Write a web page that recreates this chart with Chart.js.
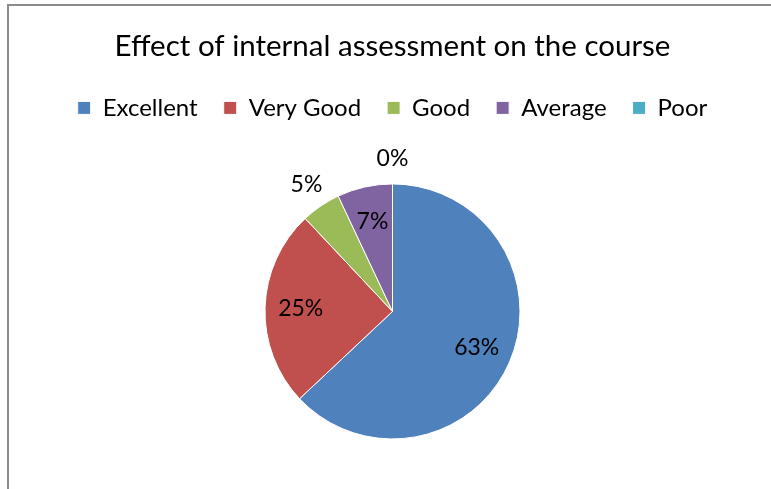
<!DOCTYPE html>
<html>
<head>
<meta charset="utf-8">
<title>Effect of internal assessment on the course</title>
<script src="https://cdn.jsdelivr.net/npm/chart.js@4.4.1/dist/chart.umd.min.js"></script>
<style>
  html, body { margin: 0; padding: 0; background: #fff; overflow: hidden; }
  #wrap { position: relative; width: 771px; height: 489px; overflow: hidden; }
  #frame {
    position: absolute; left: 7px; top: 4px; width: 800px; height: 520px;
    border-left: 2px solid #8c8c8c; border-top: 2px solid #8c8c8c;
    pointer-events: none;
  }
</style>
</head>
<body>
<div id="wrap">
  <canvas id="pieChart" width="771" height="493"></canvas>
  <div id="frame"></div>
</div>
<script>
const chartTitle = "Effect of internal assessment on the course";
const categories = ["Excellent", "Very Good", "Good", "Average", "Poor"];
const percentages = [63, 25, 5, 7, 0];
const sliceColors = ["#4F81BD", "#C0504D", "#9BBB59", "#8064A2", "#4BACC6"];

const FONT = "Lato, 'Open Sans', sans-serif";

// percent labels: inside for big slices, pushed out for the small ones
const pieLabels = {
  id: "pieLabels",
  afterDatasetsDraw(chart) {
    const ctx = chart.ctx;
    const meta = chart.getDatasetMeta(0);
    ctx.save();
    ctx.font = "23px " + FONT;
    ctx.fillStyle = "#000";
    ctx.textAlign = "center";
    ctx.textBaseline = "middle";
    meta.data.forEach((arc, i) => {
      const value = chart.data.datasets[0].data[i];
      const { x, y, startAngle, endAngle, outerRadius } = arc.getProps(
        ["x", "y", "startAngle", "endAngle", "outerRadius"],
        true,
      );
      const mid = (startAngle + endAngle) / 2;
      const k = value < 6 ? 1.2 : 0.72;
      ctx.fillText(
        value + "%",
        x + Math.cos(mid) * outerRadius * k,
        y + Math.sin(mid) * outerRadius * k,
      );
    });
    ctx.restore();
  },
};

new Chart(document.getElementById("pieChart"), {
  type: "pie",
  data: {
    labels: categories,
    datasets: [
      {
        data: percentages,
        backgroundColor: sliceColors,
        borderColor: "#fff",
        borderWidth: 1,
        radius: 127.5,
      },
    ],
  },
  options: {
    responsive: false,
    animation: false,
    layout: { padding: { left: 14, right: 0, top: 0, bottom: 0 } },
    plugins: {
      title: {
        display: true,
        text: chartTitle,
        color: "#000",
        font: { family: FONT, size: 29.5, weight: "normal" },
        padding: { top: 29, bottom: 5.5 },
      },
      legend: {
        position: "top",
        labels: {
          color: "#000",
          font: { family: FONT, size: 24 },
          boxWidth: 13,
          boxHeight: 13,
          padding: 26,
        },
      },
      tooltip: { enabled: false },
    },
  },
  plugins: [pieLabels],
});
</script>
</body>
</html>
